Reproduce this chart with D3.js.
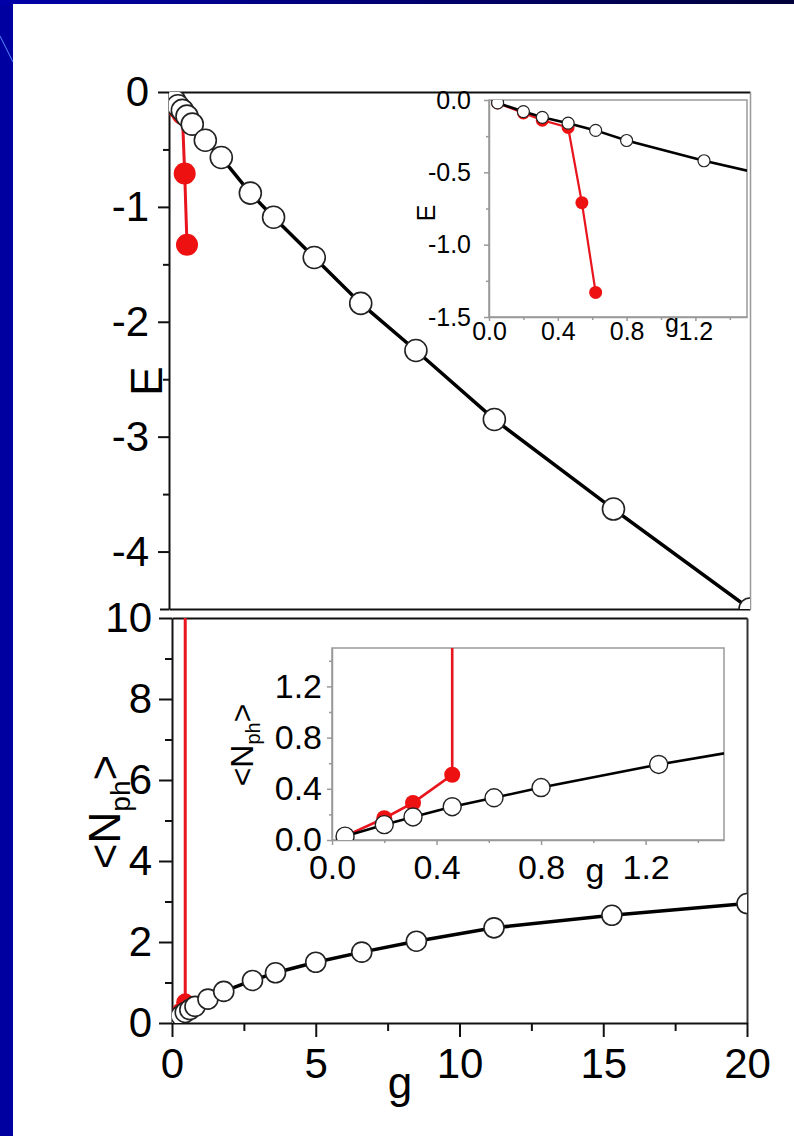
<!DOCTYPE html>
<html>
<head>
<meta charset="utf-8">
<style>
  body { margin: 0; background: #fff; }
  text { font-family: "Liberation Sans", Arial, sans-serif; fill: #000; }
</style>
</head>
<body>
<script src="https://cdn.jsdelivr.net/npm/d3@7"></script>
<script>
// coupling constant g for the black (open circle) branch
const gBlack = [0.05, 0.2, 0.31, 0.46, 0.62, 0.8, 1.25, 1.8, 2.8, 3.6, 5.0, 6.6, 8.5, 11.2, 15.3, 20];
const eBlack = [-0.02, -0.08, -0.12, -0.16, -0.21, -0.28, -0.42, -0.57, -0.88, -1.09, -1.44, -1.84, -2.25, -2.85, -3.63, -4.5];
const nBlack = [0.03, 0.12, 0.18, 0.26, 0.33, 0.41, 0.59, 0.78, 1.05, 1.24, 1.50, 1.75, 2.02, 2.35, 2.66, 2.95];

// red (filled) branch
const gRedE = [0.05, 0.2, 0.31, 0.46, 0.54, 0.62];
const eRed  = [-0.02, -0.09, -0.14, -0.19, -0.71, -1.33];
const gRedN = [0.05, 0.2, 0.31, 0.46, 0.46];
const nRed  = [0.03, 0.17, 0.29, 0.51, 25];

// tick values
const eTicks = [0, -1, -2, -3, -4];
const eMinor = [-0.5, -1.5, -2.5, -3.5];
const nTicks = [0, 2, 4, 6, 8, 10];
const nMinor = [1, 3, 5, 7, 9];
const gTicks = [0, 5, 10, 15, 20];
const gMinor = [2.5, 7.5, 12.5, 17.5];
const inTicks = [0, 0.4, 0.8, 1.2];
const inMinor = [0.2, 0.6, 1.0, 1.4];
const inETicks = [0, -0.5, -1, -1.5];
const inEMinor = [-0.25, -0.75, -1.25];

const W = 794, H = 1136;
const svg = d3.select('body').append('svg').attr('width', W).attr('height', H);

// slide background
const defs = svg.append('defs');
const grad = defs.append('linearGradient').attr('id', 'topbar');
grad.append('stop').attr('offset', '0%').attr('stop-color', '#0000a8');
grad.append('stop').attr('offset', '100%').attr('stop-color', '#00003a');
svg.append('rect').attr('width', W).attr('height', H).attr('fill', '#0000a0');
svg.append('rect').attr('width', W).attr('height', 5).attr('fill', 'url(#topbar)');
svg.append('rect').attr('x', 13).attr('y', 4).attr('width', W - 13).attr('height', H - 4).attr('fill', '#fff');
svg.append('line').attr('x1', 0).attr('y1', 36).attr('x2', 13).attr('y2', 62)
  .attr('stroke', '#5a8cff').attr('stroke-width', 1);

// scales
const xTop = d3.scaleLinear().domain([0, 20]).range([169, 750]);
const yTop = d3.scaleLinear().domain([-4.5, 0]).range([609, 92]);
const xBot = d3.scaleLinear().domain([0, 20]).range([172, 747]);
const yBot = d3.scaleLinear().domain([0, 10]).range([1023, 618]);
const xInE = d3.scaleLinear().domain([0, 1.5]).range([489, 747]);
const yInE = d3.scaleLinear().domain([-1.5, 0]).range([317, 100]);
const xInN = d3.scaleLinear().domain([0, 1.5]).range([332, 724]);
const yInN = d3.scaleLinear().domain([0, 1.5]).range([840, 648]);

const fmtInt = d => String(d);
const fmt1 = d => d.toFixed(1);

function clip(id, x, y) {
  defs.append('clipPath').attr('id', id).append('rect')
    .attr('x', x.range()[0]).attr('y', y.range()[1])
    .attr('width', x.range()[1] - x.range()[0])
    .attr('height', y.range()[0] - y.range()[1]);
}
clip('cTop', xTop, yTop);
clip('cBot', xBot, yBot);
clip('cInE', xInE, yInE);
clip('cInN', xInN, yInN);

function styleAxis(g, color, width, fontSize) {
  g.selectAll('path.domain').attr('stroke', color).attr('stroke-width', width);
  g.selectAll('.tick line').attr('stroke', color).attr('stroke-width', width);
  g.selectAll('text').attr('font-size', fontSize).attr('fill', '#000')
    .attr('font-family', '"Liberation Sans", Arial, sans-serif');
}

function drawSeries(x, y, clipId, gb, vb, gr, vr, o) {
  const layer = svg.append('g').attr('clip-path', `url(#${clipId})`);
  const line = d3.line().x(d => x(d[0])).y(d => y(d[1]));
  const red = d3.zip(gr, vr);
  const blk = d3.zip(gb, vb);
  layer.append('path').attr('d', line(red)).attr('fill', 'none')
    .attr('stroke', '#e8141e').attr('stroke-width', o.rw);
  layer.selectAll('circle.red').data(red).join('circle').attr('class', 'red')
    .attr('cx', d => x(d[0])).attr('cy', d => y(d[1])).attr('r', o.rr)
    .attr('fill', '#ee1111');
  layer.append('path').attr('d', line(blk)).attr('fill', 'none')
    .attr('stroke', '#000').attr('stroke-width', o.bw);
  layer.selectAll('circle.blk').data(blk).join('circle').attr('class', 'blk')
    .attr('cx', d => x(d[0])).attr('cy', d => y(d[1])).attr('r', o.br)
    .attr('fill', '#fff').attr('stroke', '#222').attr('stroke-width', o.cw);
}

function nphLabel(x, y, size, sub, shift) {
  const t = svg.append('text').attr('transform', `translate(${x},${y}) rotate(-90)`)
    .attr('text-anchor', 'middle').attr('font-size', size);
  t.append('tspan').text('<N');
  t.append('tspan').attr('font-size', sub).attr('dy', shift).text('ph');
  t.append('tspan').attr('dy', -shift).text('>');
}

// ---------- top main panel (E) ----------
svg.append('g').attr('transform', `translate(0,${yTop(0)})`)
  .call(d3.axisTop(xTop).tickValues([]).tickSizeOuter(0))
  .call(g => styleAxis(g, '#111', 2, 0));
svg.append('g').attr('transform', `translate(0,${yTop(-4.5)})`)
  .call(d3.axisBottom(xTop).tickValues([]).tickSizeOuter(0))
  .call(g => styleAxis(g, '#111', 2, 0));
svg.append('g').attr('transform', `translate(${xTop(20)},0)`)
  .call(d3.axisRight(yTop).tickValues([]).tickSizeOuter(0))
  .call(g => styleAxis(g, '#999', 1.5, 0));
svg.append('g').attr('transform', `translate(${xTop(0)},0)`)
  .call(d3.axisLeft(yTop).tickValues(eTicks).tickSize(11).tickPadding(9).tickSizeOuter(0).tickFormat(fmtInt))
  .call(g => styleAxis(g, '#111', 2, 42));
svg.append('g').attr('transform', `translate(${xTop(0)},0)`)
  .call(d3.axisLeft(yTop).tickValues(eMinor).tickSize(6).tickFormat(''))
  .call(g => g.select('.domain').remove())
  .call(g => styleAxis(g, '#111', 2, 0));
svg.append('g').attr('transform', `translate(${xTop(0)},0)`)
  .call(d3.axisLeft(yTop).tickValues([-4.5]).tickSize(9).tickFormat(''))
  .call(g => g.select('.domain').remove())
  .call(g => styleAxis(g, '#111', 2, 0));

drawSeries(xTop, yTop, 'cTop', gBlack, eBlack, gRedE, eRed,
  { rw: 3, rr: 11, bw: 3.5, br: 11, cw: 1.6 });

svg.append('text').attr('transform', 'translate(162,381) rotate(-90)')
  .attr('text-anchor', 'middle').attr('font-size', 44).text('E');

// ---------- bottom main panel (Nph) ----------
svg.append('g').attr('transform', `translate(0,${yBot(10)})`)
  .call(d3.axisTop(xBot).tickValues([]).tickSizeOuter(0))
  .call(g => styleAxis(g, '#111', 2, 0));
svg.append('g').attr('transform', `translate(${xBot(20)},0)`)
  .call(d3.axisRight(yBot).tickValues([]).tickSizeOuter(0))
  .call(g => styleAxis(g, '#333', 2, 0));
svg.append('g').attr('transform', `translate(${xBot(0)},0)`)
  .call(d3.axisLeft(yBot).tickValues(nTicks).tickSize(13).tickPadding(7).tickSizeOuter(0).tickFormat(fmtInt))
  .call(g => styleAxis(g, '#111', 2, 42));
svg.append('g').attr('transform', `translate(${xBot(0)},0)`)
  .call(d3.axisLeft(yBot).tickValues(nMinor).tickSize(7).tickFormat(''))
  .call(g => g.select('.domain').remove())
  .call(g => styleAxis(g, '#111', 2, 0));
svg.append('g').attr('transform', `translate(0,${yBot(0)})`)
  .call(d3.axisBottom(xBot).tickValues(gTicks).tickSize(14).tickPadding(11).tickSizeOuter(0).tickFormat(fmtInt))
  .call(g => styleAxis(g, '#111', 2, 42));
svg.append('g').attr('transform', `translate(0,${yBot(0)})`)
  .call(d3.axisBottom(xBot).tickValues(gMinor).tickSize(8).tickFormat(''))
  .call(g => g.select('.domain').remove())
  .call(g => styleAxis(g, '#111', 2, 0));

drawSeries(xBot, yBot, 'cBot', gBlack, nBlack, gRedN, nRed,
  { rw: 3, rr: 9, bw: 3.5, br: 10, cw: 1.6 });

nphLabel(120, 812, 44, 28, 10);

svg.append('text').attr('x', 400).attr('y', 1098)
  .attr('text-anchor', 'middle').attr('font-size', 44).text('g');

// ---------- top inset ----------
svg.append('rect').attr('x', xInE(0)).attr('y', yInE(0))
  .attr('width', xInE(1.5) - xInE(0)).attr('height', yInE(-1.5) - yInE(0))
  .attr('fill', '#fff').attr('stroke', '#999').attr('stroke-width', 1.5);
svg.append('g').attr('transform', `translate(${xInE(0)},0)`)
  .call(d3.axisLeft(yInE).tickValues(inETicks).tickSize(5).tickPadding(13).tickSizeOuter(0).tickFormat(fmt1))
  .call(g => styleAxis(g, '#999', 1.5, 25));
svg.append('g').attr('transform', `translate(${xInE(0)},0)`)
  .call(d3.axisLeft(yInE).tickValues(inEMinor).tickSize(3).tickFormat(''))
  .call(g => g.select('.domain').remove())
  .call(g => styleAxis(g, '#999', 1.5, 0));
svg.append('g').attr('transform', `translate(0,${yInE(-1.5)})`)
  .call(d3.axisBottom(xInE).tickValues(inTicks).tickSize(4).tickPadding(1).tickSizeOuter(0).tickFormat(fmt1))
  .call(g => styleAxis(g, '#999', 1.5, 25));
svg.append('g').attr('transform', `translate(0,${yInE(-1.5)})`)
  .call(d3.axisBottom(xInE).tickValues(inMinor).tickSize(3).tickFormat(''))
  .call(g => g.select('.domain').remove())
  .call(g => styleAxis(g, '#999', 1.5, 0));

drawSeries(xInE, yInE, 'cInE', gBlack, eBlack, gRedE, eRed,
  { rw: 2.2, rr: 6.5, bw: 2.6, br: 6, cw: 1.2 });

svg.append('text').attr('transform', 'translate(435,213) rotate(-90)')
  .attr('text-anchor', 'middle').attr('font-size', 25).text('E');
svg.append('text').attr('x', 672).attr('y', 332)
  .attr('text-anchor', 'middle').attr('font-size', 25).text('g');

// ---------- bottom inset ----------
svg.append('rect').attr('x', xInN(0)).attr('y', yInN(1.5))
  .attr('width', xInN(1.5) - xInN(0)).attr('height', yInN(0) - yInN(1.5))
  .attr('fill', '#fff').attr('stroke', '#999').attr('stroke-width', 1.5);
svg.append('g').attr('transform', `translate(${xInN(0)},0)`)
  .call(d3.axisLeft(yInN).tickValues(inTicks).tickSize(5).tickPadding(5).tickSizeOuter(0).tickFormat(fmt1))
  .call(g => styleAxis(g, '#999', 1.5, 34));
svg.append('g').attr('transform', `translate(${xInN(0)},0)`)
  .call(d3.axisLeft(yInN).tickValues(inMinor).tickSize(3).tickFormat(''))
  .call(g => g.select('.domain').remove())
  .call(g => styleAxis(g, '#999', 1.5, 0));
svg.append('g').attr('transform', `translate(0,${yInN(0)})`)
  .call(d3.axisBottom(xInN).tickValues(inTicks).tickSize(5).tickPadding(10).tickSizeOuter(0).tickFormat(fmt1))
  .call(g => styleAxis(g, '#999', 1.5, 34));
svg.append('g').attr('transform', `translate(0,${yInN(0)})`)
  .call(d3.axisBottom(xInN).tickValues(inMinor).tickSize(3).tickFormat(''))
  .call(g => g.select('.domain').remove())
  .call(g => styleAxis(g, '#999', 1.5, 0));

drawSeries(xInN, yInN, 'cInN', gBlack, nBlack, gRedN, nRed,
  { rw: 2.6, rr: 8, bw: 2.6, br: 9, cw: 1.4 });

nphLabel(253, 745, 32, 20, 7);

svg.append('text').attr('x', 595).attr('y', 882)
  .attr('text-anchor', 'middle').attr('font-size', 34).text('g');
</script>
</body>
</html>
